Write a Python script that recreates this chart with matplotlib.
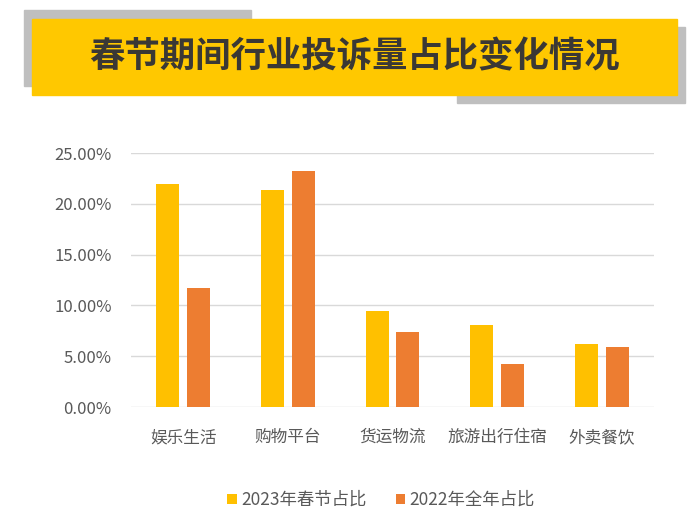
import matplotlib
matplotlib.use("Agg")
import matplotlib.pyplot as plt
from matplotlib.patches import Rectangle
from matplotlib.ticker import FuncFormatter
import numpy as np

plt.rcParams['font.family'] = ['Noto Sans CJK SC', 'DejaVu Sans']

categories = ['娱乐生活', '购物平台', '货运物流', '旅游出行住宿', '外卖餐饮']
series_2023 = [21.95, 21.4, 9.45, 8.05, 6.25]
series_2022 = [11.7, 23.25, 7.4, 4.25, 5.95]
series_names = ['2023年春节占比', '2022年全年占比']
yticks = [0, 5, 10, 15, 20, 25]
title = '春节期间行业投诉量占比变化情况'

W, H = 696, 526
fig = plt.figure(figsize=(W / 100, H / 100), dpi=100)

def fx(x):
    return x / W

def fy(y):
    return 1 - y / H

# Title banner
fig.patches.append(Rectangle((fx(24), fy(86)), fx(251) - fx(24), fy(10) - fy(86),
                             transform=fig.transFigure, color='#BFBFBF', zorder=0))
fig.patches.append(Rectangle((fx(457), fy(103)), fx(685) - fx(457), fy(27) - fy(103),
                             transform=fig.transFigure, color='#BFBFBF', zorder=0))
fig.patches.append(Rectangle((fx(32), fy(95)), fx(677) - fx(32), fy(19) - fy(95),
                             transform=fig.transFigure, color='#FFC800', zorder=1))
fig.text(fx(354), fy(57), title, ha='center', va='center', fontsize=25.5,
         fontweight='black', color='#3A3835', zorder=2)

ax = fig.add_axes([fx(131), fy(407), fx(654) - fx(131), fy(153) - fy(407)])
x = np.arange(len(categories))
w = 0.22
off = 0.148
b1 = ax.bar(x - off, series_2023, width=w, color='#FFC000', zorder=3, label=series_names[0])
b2 = ax.bar(x + off, series_2022, width=w, color='#ED7D31', zorder=3, label=series_names[1])

ax.set_xlim(-0.5, len(categories) - 0.5)
ax.set_ylim(0, 25)
ax.set_yticks(yticks)
ax.yaxis.set_major_formatter(FuncFormatter(lambda v, p: f'{v:.2f}%'))
ax.set_xticks(x)
ax.set_xticklabels(categories)
ax.tick_params(axis='both', length=0, labelsize=12, colors='#595959')
ax.tick_params(axis='y', pad=14)
ax.tick_params(axis='x', pad=16)
ax.grid(axis='y', color='#D9D9D9', linewidth=1, zorder=0)
for s in ax.spines.values():
    s.set_visible(False)
ax.set_facecolor('none')

leg = fig.legend(handles=[b1, b2], labels=series_names, loc='center',
                 bbox_to_anchor=(fx(381), fy(500)), ncol=2, frameon=False,
                 fontsize=12.5, handlelength=0.55, handleheight=0.55,
                 handletextpad=0.25, columnspacing=1.7, labelcolor='#595959')

fig.savefig('out.png', dpi=100)
